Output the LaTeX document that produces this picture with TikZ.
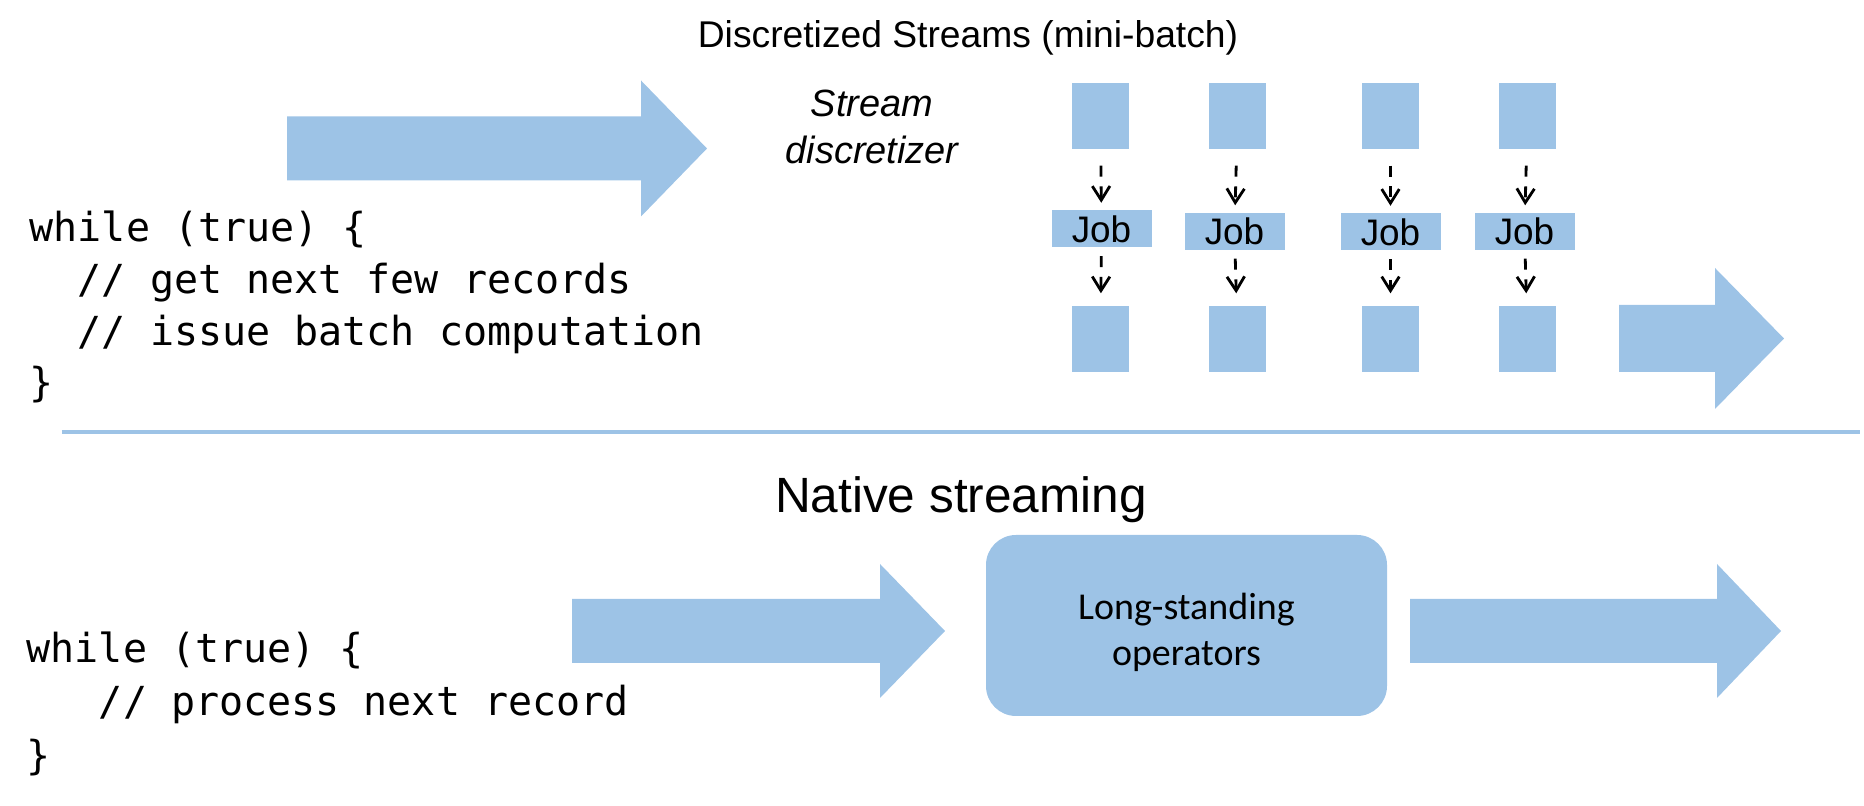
\documentclass[tikz,border=0pt]{standalone}
\usepackage{fontspec}
\setmainfont{Liberation Sans}
\newfontfamily\codefont{DejaVu Sans Mono}
\newfontfamily\boxfont{Carlito}
\usetikzlibrary{arrows.meta}
\definecolor{lightblue}{RGB}{157,195,230}

\begin{document}
\begin{tikzpicture}[font=\rmfamily,>=Latex,
  blockfill/.style={fill=lightblue},
  sq/.style={fill=lightblue,inner sep=0pt,minimum width=.57cm,minimum height=.66cm},
  jobbox/.style={fill=lightblue,inner sep=0pt,minimum width=1cm,minimum height=.37cm,font=\fontsize{10.5pt}{12pt}\selectfont},
  flow/.style={line width=.8pt,dash pattern=on 3.1pt off 2.8pt,-{Straight Barb[length=4pt,width=5pt]}},
  code/.style={align=left,inner sep=0pt,font=\codefont\fontsize{11.38pt}{14.7pt}\selectfont}]
\useasboundingbox (0,0) rectangle (18.64,8.06);
% block arrows
\foreach \xa/\xb/\xc/\yc/\sh/\hh in {2.87/6.41/7.07/6.575/.32/.68,16.19/17.15/17.84/4.675/.335/.705,
  5.72/8.80/9.45/1.75/.32/.67,14.10/17.17/17.81/1.75/.32/.67}{
  \fill[blockfill] (\xa,\yc+\sh)--(\xb,\yc+\sh)--(\xb,\yc+\hh)--(\xc,\yc)--(\xb,\yc-\hh)--(\xb,\yc-\sh)--(\xa,\yc-\sh)--cycle;
}
\node[anchor=base,font=\fontsize{10.6pt}{12pt}\selectfont] (title) at (9.68,7.58) {Discretized Streams (mini-batch)};
\node[anchor=base,align=center,inner sep=0pt,font=\itshape\fontsize{10.8pt}{13.4pt}\selectfont] (disc) at (8.72,6.42) {Stream\\discretizer};
\node[code,anchor=base west] (code1) at (.29,4.092) {while (true) \{\\\ \ // get next few records\\\ \ // issue batch computation\\\}};
% mini-batches
\foreach \i/\sx/\jx/\jy in {1/11.005/11.015/5.77,2/12.375/12.345/5.745,3/13.905/13.905/5.74,4/15.275/15.245/5.745}{
  \node[sq] (t\i) at (\sx,6.90) {};
  \node[sq] (b\i) at (\sx,4.67) {};
  \node[jobbox] (j\i) at (\jx,\jy) {Job};
  \draw[flow,shorten <=.16cm,shorten >=.07cm] (t\i)--(j\i);
  \draw[flow,shorten <=.08cm,shorten >=.12cm] (j\i)--(b\i);
}
\draw[lightblue,line width=.9pt] (.62,3.74)--(18.60,3.74);
\node[anchor=base,font=\fontsize{14.1pt}{17pt}\selectfont] (native) at (9.61,2.93) {Native streaming};
\node[code,anchor=base west,font=\codefont\fontsize{11.38pt}{15.2pt}\selectfont] (code2) at (.26,.367) {while (true) \{\\\ \ \ // process next record\\\}};
\node[fill=lightblue,rounded corners=.3cm,minimum width=4.01cm,minimum height=1.81cm] (ops) at (11.865,1.805) {};
\node[anchor=base,align=center,inner sep=0pt,font=\boxfont\fontsize{10.8pt}{13.1pt}\selectfont] (opstext) at (11.865,1.40) {Long-standing\\operators};
\end{tikzpicture}
\end{document}
